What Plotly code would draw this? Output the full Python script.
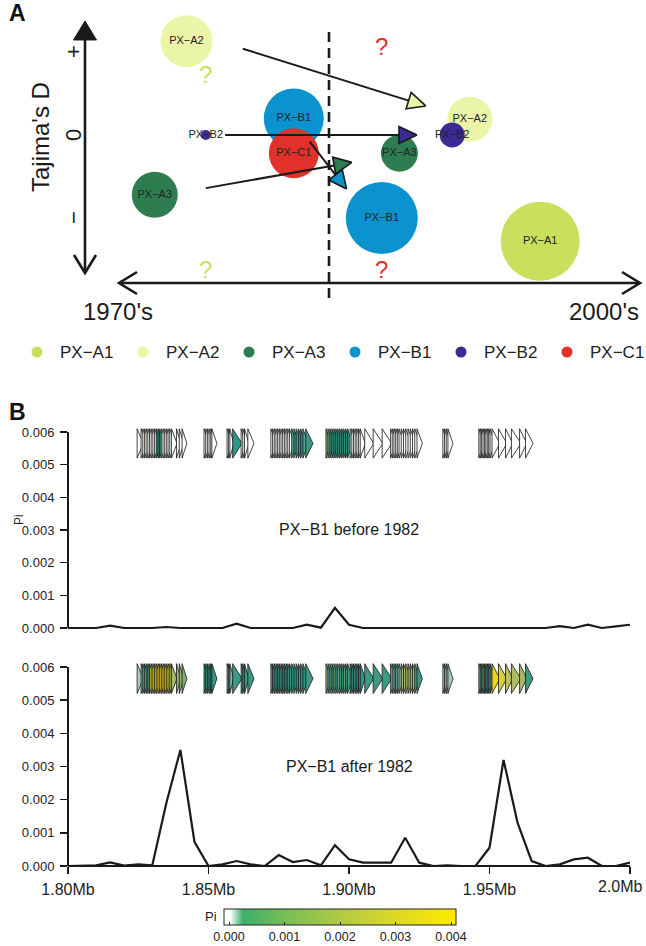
import math
import plotly.graph_objects as go

W, H = 646, 946
FONT = "Liberation Sans, Arial, sans-serif"
INK = "#1a1a1a"

# ======================= Panel A data =======================
POPS = ["PX−A1", "PX−A2", "PX−A3", "PX−B1", "PX−B2", "PX−C1"]
POP_COLORS = ["#c9e05c", "#ebf5a8", "#2e7d50", "#0a93cf", "#3b2b93", "#e2302a"]

bubble_pop = ["PX−A2", "PX−A3", "PX−B2", "PX−B1", "PX−C1",
              "PX−A2", "PX−B2", "PX−A3", "PX−B1", "PX−A1"]
bubble_year = [1973.9, 1972.1, 1975.0, 1980.0, 1980.0,
               1990.0, 1989.0, 1986.0, 1985.0, 1994.0]
bubble_tajD = [1.13, -0.72, 0.0, 0.20, -0.22,
               0.19, 0.0, -0.22, -1.00, -1.28]
bubble_size = [52, 46, 10, 60, 50, 45, 25, 37, 72, 79]

arrow_pop = ["PX−A2", "PX−B2", "PX−A3", "PX−B1"]
arrow_year0 = [1977.1, 1976.1, 1975.0, 1980.9]
arrow_tajD0 = [1.04, 0.0, -0.64, -0.08]
arrow_year1 = [1987.5, 1987.0, 1983.3, 1983.0]
arrow_tajD1 = [0.35, 0.0, -0.33, -0.65]

qmark_pop = ["PX−A1", "PX−A1", "PX−C1", "PX−C1"]
qmark_year = [1975.0, 1975.0, 1985.0, 1985.0]
qmark_tajD = [0.70, -1.65, 1.04, -1.65]

SPLIT_YEAR = 1982
tajD_ticks = [1, 0, -1]
tajD_ticktext = ["+", "0", "−"]
era_labels = ["1970's", "2000's"]
era_years = [1970, 2000]

# ======================= Panel B data =======================
B_POP = "PX−B1"
window_mb = [1.800, 1.805, 1.810, 1.815, 1.820, 1.825, 1.830, 1.835, 1.840, 1.845,
             1.850, 1.855, 1.860, 1.865, 1.870, 1.875, 1.880, 1.885, 1.890, 1.895,
             1.900, 1.905, 1.910, 1.915, 1.920, 1.925, 1.930, 1.935, 1.940, 1.945,
             1.950, 1.955, 1.960, 1.965, 1.970, 1.975, 1.980, 1.985, 1.990, 1.995, 2.000]
pi_before = [0, 0, 0, 0.00007, 0, 0, 0, 0.00003, 0, 0,
             0, 0, 0.00013, 0, 0, 0, 0, 0.00010, 0.00001, 0.00062,
             0.00010, 0, 0, 0, 0, 0, 0, 0, 0, 0,
             0, 0, 0, 0, 0, 0.00006, 0, 0.00010, 0, 0.00005, 0.00010]
pi_after = [0, 0, 0.00002, 0.00011, 0.00001, 0.00005, 0.00002, 0.0019, 0.0035, 0.00073,
            0, 0.00005, 0.00015, 0.00005, 0, 0.00033, 0.00012, 0.00018, 0.00002, 0.00063,
            0.0002, 0.0001, 0.0001, 0.0001, 0.00085, 0.0001, 0, 0.00002, 0, 0,
            0.00055, 0.0032, 0.0013, 0.00015, 0, 0.00005, 0.0002, 0.00025, 0, 0, 0.0001]

gene_start_kb = [
    # cluster 1
    1824.6, 1826.0, 1826.6, 1827.2, 1827.8, 1828.4, 1829.0, 1829.6, 1830.2, 1830.8,
    1831.4, 1832.0, 1832.6, 1833.2, 1833.8, 1834.4, 1835.0, 1835.6, 1836.2, 1836.8,
    1838.6, 1839.6, 1840.6,
    # cluster 2
    1848.4, 1849.0, 1849.6, 1850.2, 1850.8, 1851.2,
    # cluster 3
    1856.6, 1857.1, 1857.6, 1858.6, 1861.6, 1862.2, 1862.8, 1864.0,
    # cluster 4
    1872.2, 1872.8, 1873.4, 1874.0, 1874.6, 1875.2, 1875.8, 1876.4, 1877.0, 1877.6,
    1878.2, 1878.8, 1879.6, 1880.4, 1881.2, 1882.0, 1882.8, 1883.6, 1884.6,
    # cluster 5
    1891.8, 1892.5, 1893.2, 1893.9, 1894.6, 1895.3, 1896.0, 1896.7, 1897.4, 1898.1,
    1898.8, 1899.5, 1900.4, 1901.0, 1901.6, 1902.2, 1902.8, 1903.4, 1904.0, 1905.6,
    1908.6, 1911.8, 1914.8, 1915.4, 1916.0, 1916.6, 1917.2, 1917.8, 1918.6, 1919.4,
    1920.2, 1921.0, 1921.8, 1922.6, 1923.4, 1924.2,
    # cluster 6
    1933.4, 1934.0, 1934.6, 1935.2,
    # cluster 7
    1946.2, 1946.7, 1947.2, 1947.7, 1948.2, 1948.7, 1949.2, 1949.7, 1950.2, 1950.9,
    1953.2, 1955.7, 1957.8, 1960.7, 1962.8]
gene_end_kb = [
    1826.8, 1828.0, 1828.6, 1829.2, 1829.8, 1830.4, 1831.0, 1831.6, 1832.2, 1832.8,
    1833.4, 1834.0, 1834.6, 1835.2, 1835.8, 1836.4, 1837.0, 1837.6, 1838.2, 1838.8,
    1840.2, 1841.2, 1842.3,
    1850.2, 1850.8, 1851.4, 1852.0, 1852.6, 1853.0,
    1858.2, 1858.7, 1859.0, 1861.9, 1863.2, 1863.8, 1864.4, 1866.2,
    1874.0, 1874.6, 1875.2, 1875.8, 1876.4, 1877.0, 1877.6, 1878.2, 1878.8, 1879.4,
    1880.0, 1880.6, 1881.8, 1882.4, 1883.2, 1884.0, 1884.8, 1885.6, 1887.2,
    1893.6, 1894.3, 1895.0, 1895.7, 1896.4, 1897.1, 1897.8, 1898.5, 1899.2, 1899.9,
    1900.6, 1901.3, 1902.1, 1902.7, 1903.3, 1903.9, 1904.5, 1905.1, 1905.8, 1908.8,
    1912.0, 1915.2, 1916.7, 1917.3, 1917.9, 1918.5, 1919.1, 1919.7, 1920.5, 1921.3,
    1922.1, 1922.9, 1923.7, 1924.5, 1925.3, 1926.1,
    1935.0, 1935.6, 1936.2, 1937.0,
    1947.9, 1948.4, 1948.9, 1949.4, 1949.9, 1950.4, 1950.9, 1951.4, 1951.9, 1953.7,
    1956.2, 1958.3, 1961.2, 1963.3, 1965.5]
gene_pi_before = [
    0, 0, 0, 0, 0, 0, 0, 0, 0, 0,
    0.0004, 0.0004, 0.0004, 0, 0, 0, 0, 0, 0, 0,
    0, 0, 0,
    0, 0, 0, 0, 0, 0,
    0, 0, 0, 0.0004, 0, 0, 0, 0,
    0, 0, 0, 0, 0, 0, 0, 0, 0, 0,
    0, 0, 0.0003, 0.0004, 0.0003, 0.0004, 0.0004, 0.0003, 0.0005,
    0.0010, 0.0009, 0.0004, 0.0005, 0.0004, 0.0005, 0.0004, 0.0005, 0.0004, 0.0005,
    0.0004, 0.0004, 0, 0, 0, 0, 0, 0, 0, 0,
    0, 0, 0, 0, 0, 0, 0, 0, 0, 0,
    0, 0, 0, 0, 0, 0,
    0, 0, 0, 0,
    0, 0, 0, 0, 0, 0, 0, 0, 0, 0,
    0, 0, 0, 0, 0]
gene_pi_after = [
    0.00008, 0.0002, 0.0003, 0.0002, 0.0004, 0.0006, 0.0030, 0.0033, 0.0031, 0.0035,
    0.0032, 0.0034, 0.0030, 0.0035, 0.0031, 0.0033, 0.0029, 0.0032, 0.0016, 0.0013,
    0.0012, 0.0011, 0.0010,
    0.0004, 0.0005, 0.0004, 0.0005, 0.0004, 0.0005,
    0.0002, 0.0003, 0.0002, 0.0005, 0.0005, 0.0004, 0.0005, 0.0005,
    0.0003, 0.0004, 0.0003, 0.0005, 0.0004, 0.0003, 0.0005, 0.0004, 0.0005, 0.0004,
    0.0003, 0.0005, 0.0004, 0.0005, 0.0004, 0.0005, 0.0005, 0.0004, 0.0005,
    0.0012, 0.0003, 0.0008, 0.0004, 0.0010, 0.0005, 0.0002, 0.0006, 0.0004, 0.0009,
    0.0005, 0.0003, 0.0004, 0.0005, 0.0003, 0.0005, 0.0004, 0.0005, 0.0004, 0.0005,
    0.0005, 0.0005, 0.0002, 0.0001, 0.0003, 0.0002, 0.0001, 0.0002, 0.0013, 0.0012,
    0.0014, 0.0012, 0.0011, 0.0013, 0.0006, 0.0005,
    0.00008, 0.0001, 0.00008, 0.0001,
    0.0002, 0.0008, 0.0003, 0.0010, 0.0004, 0.0006, 0.0003, 0.0008, 0.0005, 0.0035,
    0.0024, 0.0017, 0.0015, 0.0014, 0.0005]

pi_ticks = [0.000, 0.001, 0.002, 0.003, 0.004, 0.005, 0.006]
mb_ticks = [1.80, 1.85, 1.90, 1.95, 2.00]
mb_ticktext = ["1.80Mb", "1.85Mb", "1.90Mb", "1.95Mb", "2.0Mb"]
cb_ticks = [0.000, 0.001, 0.002, 0.003, 0.004]

# ======================= styling / geometry =======================
pop_color = dict(zip(POPS, POP_COLORS))


def px2x(px):
    return px / W


def py2y(py):
    return 1 - py / H


# panel A scale (pixels per unit)
PX_PER_YEAR = 17.6
PX_PER_D = 83.0
X_LEFT = SPLIT_YEAR - 329 / PX_PER_YEAR
X_RIGHT = X_LEFT + W / PX_PER_YEAR
D_TOP = 135 / PX_PER_D
D_BOT = D_TOP - 330 / PX_PER_D

GENE_Y0, GENE_Y1 = 0.0052, 0.0061
GENE_STOPS = [(0.0, (255, 255, 255)), (0.00005, (185, 210, 200)),
              (0.0004, (46, 150, 136)), (0.0012, (160, 182, 104)),
              (0.002, (200, 200, 85)), (0.0032, (236, 214, 26))]

CB_MIN, CB_MAX = -0.00009, 0.00409
CB_STOPS = [(CB_MIN, "#ffffff"), (0.00002, "#ffffff"), (0.00025, "#3daf6b"),
            (0.001, "#78bd55"), (0.002, "#b0ca42"), (0.003, "#dcd924"),
            (0.004, "#fde900"), (CB_MAX, "#fde900")]
CB_SCALE = [[(v - CB_MIN) / (CB_MAX - CB_MIN), c] for v, c in CB_STOPS]


def gene_color(p):
    if p <= GENE_STOPS[0][0]:
        c = GENE_STOPS[0][1]
        return "rgb(%d,%d,%d)" % c
    for (a, ca), (b, cb) in zip(GENE_STOPS, GENE_STOPS[1:]):
        if p <= b:
            t = (p - a) / (b - a)
            c = tuple(round(ca[i] + t * (cb[i] - ca[i])) for i in range(3))
            return "rgb(%d,%d,%d)" % c
    return "rgb(%d,%d,%d)" % GENE_STOPS[-1][1]


fig = go.Figure()

# ---------- Panel A: bubbles ----------
fig.add_trace(go.Scatter(
    x=bubble_year, y=bubble_tajD, mode="markers",
    marker=dict(size=bubble_size, color=[pop_color[p] for p in bubble_pop],
                line=dict(width=0), opacity=1),
    xaxis="x", yaxis="y", hoverinfo="skip", showlegend=False, cliponaxis=False))
fig.add_trace(go.Scatter(
    x=bubble_year, y=bubble_tajD, mode="text", text=bubble_pop,
    textposition="middle center",
    textfont=dict(family=FONT, size=11, color="#222"),
    xaxis="x", yaxis="y", hoverinfo="skip", showlegend=False, cliponaxis=False))

# ---------- Panel A: arrows ----------
HEAD_LEN, HEAD_W = 18.0, 17.0
for pop, x0, y0, x1, y1 in zip(arrow_pop, arrow_year0, arrow_tajD0, arrow_year1, arrow_tajD1):
    dxp = (x1 - x0) * PX_PER_YEAR
    dyp = (y1 - y0) * PX_PER_D
    L = math.hypot(dxp, dyp)
    ux, uy = dxp / L, dyp / L
    nx, ny = -uy, ux
    bx = x1 - HEAD_LEN * ux / PX_PER_YEAR
    by = y1 - HEAD_LEN * uy / PX_PER_D
    v1 = (bx + HEAD_W / 2 * nx / PX_PER_YEAR, by + HEAD_W / 2 * ny / PX_PER_D)
    v2 = (bx - HEAD_W / 2 * nx / PX_PER_YEAR, by - HEAD_W / 2 * ny / PX_PER_D)
    fig.add_trace(go.Scatter(
        x=[x0, bx], y=[y0, by], mode="lines",
        line=dict(color=INK, width=2),
        xaxis="x", yaxis="y", hoverinfo="skip", showlegend=False))
    fig.add_trace(go.Scatter(
        x=[x1, v1[0], v2[0], x1], y=[y1, v1[1], v2[1], y1], mode="lines",
        fill="toself", fillcolor=pop_color[pop],
        line=dict(color=INK, width=1.6),
        xaxis="x", yaxis="y", hoverinfo="skip", showlegend=False))

# ---------- Panel A: question marks ----------
fig.add_trace(go.Scatter(
    x=qmark_year, y=qmark_tajD, mode="text", text=["?"] * len(qmark_pop),
    textfont=dict(family=FONT, size=24, color=[pop_color[p] for p in qmark_pop]),
    xaxis="x", yaxis="y", hoverinfo="skip", showlegend=False, cliponaxis=False))

# ---------- Panel B: Pi lines ----------
for pis, xa, ya in [(pi_before, "x2", "y2"), (pi_after, "x3", "y3")]:
    fig.add_trace(go.Scatter(
        x=window_mb, y=pis, mode="lines", line=dict(color=INK, width=2.2),
        xaxis=xa, yaxis=ya, hoverinfo="skip", showlegend=False))

# ---------- Panel B: genes ----------
GENE_YM = (GENE_Y0 + GENE_Y1) / 2
for pis, xa, ya in [(gene_pi_before, "x2", "y2"), (gene_pi_after, "x3", "y3")]:
    for s, e, p in zip(gene_start_kb, gene_end_kb, pis):
        x0, x1 = s / 1000.0, e / 1000.0
        fig.add_trace(go.Scatter(
            x=[x0, x0, x1, x0], y=[GENE_Y0, GENE_Y1, GENE_YM, GENE_Y0],
            mode="lines", fill="toself", fillcolor=gene_color(p),
            line=dict(color="#151515", width=0.8),
            xaxis=xa, yaxis=ya, hoverinfo="skip", showlegend=False))

# ---------- colour bar (carrier trace) ----------
fig.add_trace(go.Scatter(
    x=[(s + e) / 2000.0 for s, e in zip(gene_start_kb, gene_end_kb)],
    y=[GENE_YM] * len(gene_start_kb), mode="markers",
    marker=dict(size=4, opacity=0, color=gene_pi_after, colorscale=CB_SCALE,
                cmin=CB_MIN, cmax=CB_MAX, showscale=True,
                colorbar=dict(
                    orientation="h", x=(224 + 456) / 2 / W, xanchor="center",
                    y=py2y(909), yanchor="top", len=232, lenmode="pixels",
                    thickness=16, thicknessmode="pixels", xpad=0, ypad=0,
                    outlinewidth=1, outlinecolor="#222",
                    tickvals=cb_ticks, ticktext=["%.3f" % v for v in cb_ticks],
                    ticks="inside", ticklen=3, tickcolor="#222", tickwidth=1,
                    tickfont=dict(family=FONT, size=12.5, color="#222"))),
    xaxis="x3", yaxis="y3", hoverinfo="skip", showlegend=False))

# ======================= layout =======================
shapes = []
ann = []


def P(px, py):
    return "%.5f,%.5f" % (px2x(px), py2y(py))


# Panel A axis decorations (paper coordinates)
shapes += [
    dict(type="line", xref="paper", yref="paper", x0=px2x(85), x1=px2x(85),
         y0=py2y(38), y1=py2y(271), line=dict(color=INK, width=2.6)),
    dict(type="path", xref="paper", yref="paper",
         path="M%s L%s L%s Z" % (P(85, 21), P(73.5, 40), P(96.5, 40)),
         fillcolor=INK, line=dict(color=INK, width=1)),
    dict(type="path", xref="paper", yref="paper",
         path="M%s L%s L%s" % (P(74, 255), P(85, 273), P(96, 255)),
         line=dict(color=INK, width=2.6)),
    dict(type="line", xref="paper", yref="paper", x0=px2x(121), x1=px2x(638),
         y0=py2y(283), y1=py2y(283), line=dict(color=INK, width=2.6)),
    dict(type="path", xref="paper", yref="paper",
         path="M%s L%s L%s" % (P(137, 272), P(119, 283), P(137, 294)),
         line=dict(color=INK, width=2.6)),
    dict(type="path", xref="paper", yref="paper",
         path="M%s L%s L%s" % (P(622, 272), P(640, 283), P(622, 294)),
         line=dict(color=INK, width=2.6)),
    dict(type="line", xref="x", yref="paper", x0=SPLIT_YEAR, x1=SPLIT_YEAR,
         y0=py2y(32), y1=py2y(300), line=dict(color=INK, width=2.6, dash="10px,6px")),
]

# Panel B axis lines (R-style: only between extreme ticks)
for xa, ya in [("x2", "y2"), ("x3", "y3")]:
    shapes.append(dict(type="line", xref=xa + " domain", yref=ya, x0=0, x1=0,
                       y0=pi_ticks[0], y1=pi_ticks[-1], line=dict(color=INK, width=2)))
shapes.append(dict(type="line", xref="x3", yref="y3 domain", x0=mb_ticks[0], x1=mb_ticks[-1],
                   y0=0, y1=0, line=dict(color=INK, width=2)))

# Legend (manual, one row)
LEG_X0, LEG_DX, LEG_Y = 37, 106.0, 352
for i, (pop, col) in enumerate(zip(POPS, POP_COLORS)):
    cx = LEG_X0 + LEG_DX * i
    shapes.append(dict(type="circle", xref="paper", yref="paper",
                       x0=px2x(cx - 5.5), x1=px2x(cx + 5.5),
                       y0=py2y(LEG_Y + 5.5), y1=py2y(LEG_Y - 5.5),
                       fillcolor=col, line=dict(width=0)))
    ann.append(dict(xref="paper", yref="paper", x=px2x(cx + 21), y=py2y(LEG_Y),
                    xanchor="left", yanchor="middle", text=pop, showarrow=False,
                    font=dict(family=FONT, size=17, color="#222")))

# Panel labels
ann.append(dict(xref="paper", yref="paper", x=px2x(17), y=py2y(13), text="<b>A</b>",
                showarrow=False, xanchor="center", yanchor="middle",
                font=dict(family=FONT, size=23, color="#111")))
ann.append(dict(xref="paper", yref="paper", x=px2x(17), y=py2y(412), text="<b>B</b>",
                showarrow=False, xanchor="center", yanchor="middle",
                font=dict(family=FONT, size=23, color="#111")))

# Panel A axis texts
ann.append(dict(xref="paper", yref="paper", x=px2x(41), y=py2y(137), text="Tajima's D",
                textangle=-90, showarrow=False, xanchor="center", yanchor="middle",
                font=dict(family=FONT, size=24, color=INK)))
for v, t in zip(tajD_ticks, tajD_ticktext):
    ann.append(dict(xref="paper", yref="y", x=px2x(73), y=v, text=t, textangle=-90,
                    showarrow=False, xanchor="center", yanchor="middle",
                    font=dict(family=FONT, size=22, color=INK)))
ann.append(dict(xref="x", yref="paper", x=era_years[0], y=py2y(311), text=era_labels[0],
                showarrow=False, xanchor="center", yanchor="middle",
                font=dict(family=FONT, size=24, color=INK)))
ann.append(dict(xref="x", yref="paper", x=era_years[1] - 0.3, y=py2y(311), text=era_labels[1],
                showarrow=False, xanchor="right", yanchor="middle",
                font=dict(family=FONT, size=24, color=INK)))

# Panel B texts
ann.append(dict(xref="x2", yref="y2", x=1.90, y=0.003, text="%s before %d" % (B_POP, SPLIT_YEAR),
                showarrow=False, font=dict(family=FONT, size=16, color=INK)))
ann.append(dict(xref="x3", yref="y3", x=1.90, y=0.003, text="%s after %d" % (B_POP, SPLIT_YEAR),
                showarrow=False, font=dict(family=FONT, size=16, color=INK)))
ann.append(dict(xref="paper", yref="paper", x=px2x(10), y=py2y(520), text="Pi", textangle=-90,
                showarrow=False, font=dict(family=FONT, size=12, color=INK)))
ann.append(dict(xref="paper", yref="paper", x=px2x(219), y=py2y(916), text="Pi",
                xanchor="right", yanchor="middle",
                showarrow=False, font=dict(family=FONT, size=13, color=INK)))
# last x tick label kept inside the page (right-aligned at the edge)
ann.append(dict(xref="paper", yref="paper", x=px2x(645), y=py2y(886), text=mb_ticktext[-1],
                xanchor="right", yanchor="middle", showarrow=False,
                font=dict(family=FONT, size=16, color="#222")))

XDOM = [px2x(68), px2x(630)]
PI_RANGE_TOP = [-0.0001, 0.0062]
PI_RANGE_BOT = [0.0, 0.0062]

yaxis_common = dict(
    tickvals=pi_ticks, ticktext=["%.3f" % v for v in pi_ticks],
    ticks="outside", ticklen=7, tickwidth=1.6, tickcolor=INK,
    showline=False, showgrid=False, zeroline=False, fixedrange=True,
    automargin=False, ticklabelstandoff=3,
    tickfont=dict(family=FONT, size=13, color="#222"))

fig.update_layout(
    width=W, height=H, margin=dict(l=0, r=0, t=0, b=0, pad=0, autoexpand=False),
    paper_bgcolor="white", plot_bgcolor="rgba(0,0,0,0)",
    showlegend=False, hovermode=False,
    font=dict(family=FONT, color=INK),
    xaxis=dict(domain=[0, 1], range=[X_LEFT, X_RIGHT], visible=False,
               fixedrange=True, automargin=False),
    yaxis=dict(domain=[py2y(330), 1], range=[D_BOT, D_TOP], visible=False,
               fixedrange=True, automargin=False),
    xaxis2=dict(domain=XDOM, range=[mb_ticks[0], mb_ticks[-1]], anchor="y2",
                visible=False, fixedrange=True, automargin=False),
    yaxis2=dict(domain=[py2y(628 + 0.1 * 32.67), py2y(432 - 0.2 * 32.67)],
                range=PI_RANGE_TOP, anchor="x2", **yaxis_common),
    xaxis3=dict(domain=XDOM, range=[mb_ticks[0], mb_ticks[-1]], anchor="y3",
                tickvals=mb_ticks, ticktext=mb_ticktext[:-1] + [""], ticks="outside", ticklen=7,
                tickwidth=1.6, tickcolor=INK, showline=False, showgrid=False,
                zeroline=False, fixedrange=True, automargin=False, ticklabelstandoff=2,
                tickfont=dict(family=FONT, size=16, color="#222")),
    yaxis3=dict(domain=[py2y(866), py2y(667 - 0.2 * 33.17)],
                range=PI_RANGE_BOT, anchor="x3", **yaxis_common),
    shapes=shapes, annotations=ann,
)

fig.write_html("out.html",
               config={"displayModeBar": False, "staticPlot": True},
               post_script="document.body.style.margin='0px';"
                           "document.body.style.overflow='hidden';")
